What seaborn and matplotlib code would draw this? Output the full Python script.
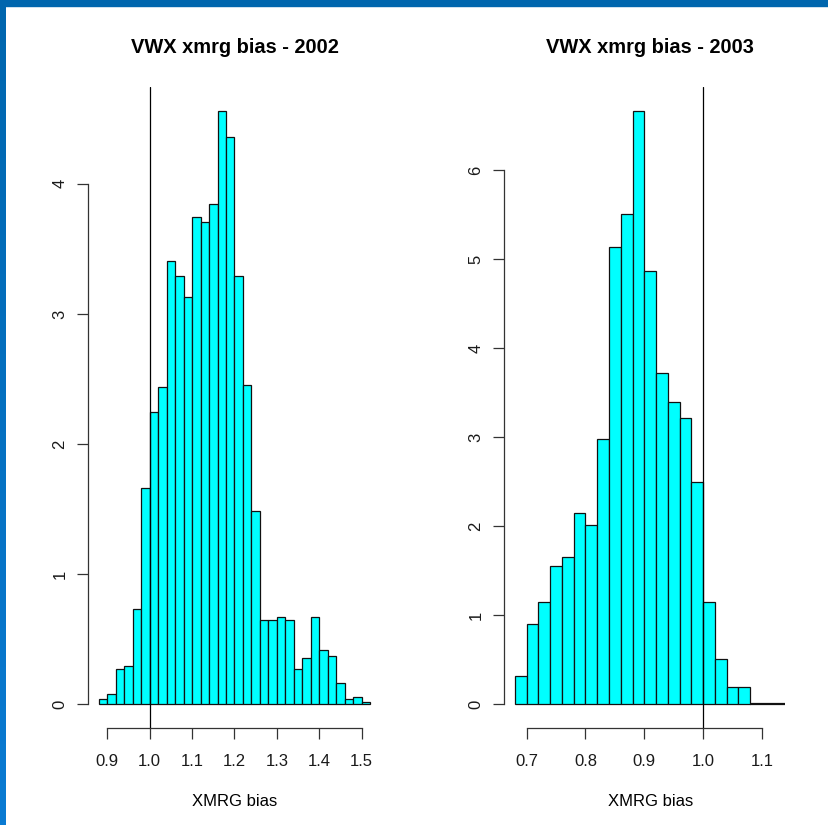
import numpy as np
import pandas as pd
import matplotlib
matplotlib.use('Agg')
import matplotlib.pyplot as plt
import seaborn as sns
from matplotlib.patches import Rectangle
from matplotlib.colors import LinearSegmentedColormap

# histogram densities, bins of width 0.02
bin_width = 0.02

start_2002 = 0.88
density_2002 = [0.04, 0.08, 0.275, 0.293, 0.731, 1.665, 2.244, 2.436,
                3.41, 3.29, 3.127, 3.747, 3.706, 3.846, 4.558, 4.356,
                3.289, 2.456, 1.484, 0.649, 0.649, 0.67, 0.649, 0.275,
                0.355, 0.67, 0.419, 0.375, 0.163, 0.04, 0.06, 0.02]

start_2003 = 0.68
density_2003 = [0.32, 0.90, 1.153, 1.557, 1.659, 2.15, 2.015, 2.98,
                5.138, 5.509, 6.666, 4.869, 3.726, 3.397, 3.22, 2.494,
                1.153, 0.506, 0.191, 0.191, 0.0, 0.0, 0.0]

titles = ['VWX xmrg bias - 2002', 'VWX xmrg bias - 2003']
xticks_2002 = [0.9, 1.0, 1.1, 1.2, 1.3, 1.4, 1.5]
xticks_2003 = [0.7, 0.8, 0.9, 1.0, 1.1]
yticks_2002 = [0, 1, 2, 3, 4]
yticks_2003 = [0, 1, 2, 3, 4, 5, 6]
ref_line = 1.0

sns.set_style('white')
plt.rcParams.update({
    'font.family': ['Liberation Sans', 'DejaVu Sans'],
    'font.size': 12,
    'axes.titlesize': 14.4,
    'axes.labelsize': 12,
    'xtick.labelsize': 12,
    'ytick.labelsize': 12,
    'text.color': 'black',
    'axes.labelcolor': 'black',
})

W, H = 829, 825
fig = plt.figure(figsize=(W / 100, H / 100), dpi=100)
fig.patch.set_facecolor('white')

# axes boxes in pixels (left, right, top, bottom), R-like plot regions
boxes = [(88.0, 381.0, 87.3, 728.2), (504.1, 796.2, 87.3, 728.2)]

panels = [
    (start_2002, density_2002, xticks_2002, yticks_2002),
    (start_2003, density_2003, xticks_2003, yticks_2003),
]

line_col = '#333333'

for i, (start, dens, xt, yt) in enumerate(panels):
    l, r, t, b = boxes[i]
    ax = fig.add_axes([l / W, 1 - b / H, (r - l) / W, (b - t) / H])

    n = len(dens)
    lo = start
    hi = start + bin_width * n
    centers = lo + bin_width * (np.arange(n) + 0.5)
    df = pd.DataFrame({'bias': centers, 'density': dens})

    sns.histplot(data=df, x='bias', weights='density', bins=n,
                 binrange=(lo, hi), stat='count',
                 color='#00FFFF', edgecolor='#111111', linewidth=0.9,
                 alpha=1, fill=True, ax=ax)
    # empty bins show up as a flat, heavier line like in R
    for p in ax.patches:
        if p.get_height() == 0:
            p.set_linewidth(1.6)

    ax.axvline(ref_line, color='black', linewidth=0.9, zorder=5)

    # R style 4% padding
    pad = 0.04 * (hi - lo)
    ax.set_xlim(lo - pad, hi + pad)
    ymax = max(dens)
    ax.set_ylim(-0.04 * ymax, 1.04 * ymax)

    ax.set_xticks(xt)
    ax.set_xticklabels([f'{v:.1f}' for v in xt])
    ax.set_yticks(yt)
    ax.set_yticklabels([str(v) for v in yt])

    for s in ['top', 'right']:
        ax.spines[s].set_visible(False)
    ax.spines['bottom'].set_bounds(xt[0], xt[-1])
    ax.spines['left'].set_bounds(yt[0], yt[-1])
    for s in ['bottom', 'left']:
        ax.spines[s].set_color(line_col)
        ax.spines[s].set_linewidth(0.9)

    ax.tick_params(axis='both', bottom=True, left=True, direction='out',
                   length=7.9, width=0.9, color=line_col, labelcolor='#1a1a1a')
    ax.tick_params(axis='x', pad=10.5)
    ax.tick_params(axis='y', pad=7, labelrotation=90)
    for lab in ax.get_yticklabels():
        lab.set_va('center')

    ax.set_title(titles[i], fontweight='bold', pad=24.5)
    ax.set_xlabel('XMRG bias', labelpad=18)
    ax.set_ylabel('')
    ax.grid(False)

# blue frame on top and left edges
bax = fig.add_axes([0, 0, 6 / W, 1])
grad = np.linspace(0, 1, 256).reshape(-1, 1)
cmap = LinearSegmentedColormap.from_list('edge', ['#0066AE', '#0A7BD3'])
bax.imshow(grad, aspect='auto', cmap=cmap)
bax.axis('off')
fig.add_artist(Rectangle((0, 1 - 6 / H), 1, 6 / H, transform=fig.transFigure,
                         color='#0066AE', zorder=10))

plt.savefig('out.png', dpi=100)
